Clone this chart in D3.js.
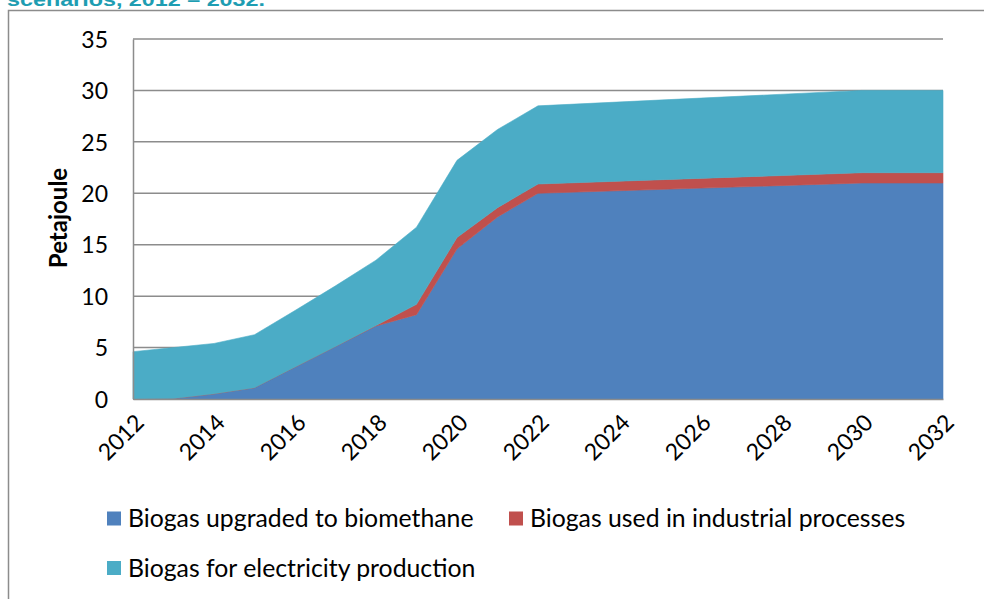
<!DOCTYPE html>
<html>
<head>
<meta charset="utf-8">
<script src="https://cdn.jsdelivr.net/npm/d3@7"></script>
<style>
  html, body { margin: 0; padding: 0; background: #fff; }
  svg { display: block; }
  text { font-family: Lato, "Open Sans", sans-serif; }
</style>
</head>
<body>
<svg id="chart" width="984" height="599"></svg>
<script>
// ---- data ----
const years = [2012, 2013, 2014, 2015, 2016, 2017, 2018, 2019, 2020, 2021, 2022, 2030, 2032];
const biomethane = [0, 0.05, 0.5, 1.1, 3.1, 5.1, 7.1, 8.2, 14.6, 17.7, 20.0, 21.0, 21.0];
const industrial = [0, 0, 0, 0, 0, 0, 0.05, 1.0, 1.1, 0.9, 0.9, 1.0, 1.0];
const electricity = [4.6, 4.95, 4.9, 5.15, 5.5, 5.9, 6.35, 7.5, 7.5, 7.6, 7.6, 8.0, 8.0];
const seriesNames = ["Biogas upgraded to biomethane", "Biogas used in industrial processes", "Biogas for electricity production"];
const seriesColors = ["#4F81BD", "#C0504D", "#4BACC6"];
const yTicks = [0, 5, 10, 15, 20, 25, 30, 35];
const xTicks = [2012, 2014, 2016, 2018, 2020, 2022, 2024, 2026, 2028, 2030, 2032];
const titleText = "scenarios, 2012 – 2032.";
const yLabel = "Petajoule";

const svg = d3.select("#chart");

// cut-off title at top (the reference shows only its lower part)
svg.append("text")
  .attr("x", 7).attr("y", 6)
  .attr("textLength", 258).attr("lengthAdjust", "spacingAndGlyphs")
  .style("font-family", "'Liberation Sans', Arial, sans-serif")
  .style("font-weight", "bold").style("font-size", "18px")
  .attr("fill", "#1E9DB2")
  .text(titleText);

// outer chart frame
svg.append("path")
  .attr("d", "M8.5,600 L8.5,10.5 L985,10.5")
  .attr("fill", "none").attr("stroke", "#8C8C8C").attr("stroke-width", 1.5);

const x = d3.scaleLinear().domain([2012, 2032]).range([133, 943]);
const y = d3.scaleLinear().domain([0, 35]).range([399, 39]);

// gridlines
svg.append("g").selectAll("line").data(yTicks.filter(d => d > 0)).join("line")
  .attr("x1", x(2012)).attr("x2", x(2032))
  .attr("y1", d => y(d)).attr("y2", d => y(d))
  .attr("stroke", "#8C8C8C").attr("stroke-width", 1.5);

// stacked areas
const table = years.map((yr, i) => ({ year: yr, a: biomethane[i], b: industrial[i], c: electricity[i] }));
const stack = d3.stack().keys(["a", "b", "c"]);
const stacked = stack(table);
const area = d3.area()
  .x(d => x(d.data.year))
  .y0(d => y(d[0]))
  .y1(d => y(d[1]));

svg.append("g").selectAll("path").data(stacked).join("path")
  .attr("d", area)
  .attr("fill", (d, i) => seriesColors[i])
  .attr("stroke", (d, i) => seriesColors[i])
  .attr("stroke-width", 0.6);

// axes
const yAxis = d3.axisLeft(y).tickValues(yTicks).tickSize(0).tickPadding(25);
const yg = svg.append("g").attr("transform", `translate(${x(2012)},0)`).call(yAxis);
yg.select(".domain").attr("stroke", "#8C8C8C").attr("stroke-width", 1.5);
yg.selectAll("text").style("font-size", "23px").attr("fill", "#000").attr("dy", "0.36em");

const xAxis = d3.axisBottom(x).tickValues(xTicks).tickFormat(d3.format("d")).tickSize(0);
const xg = svg.append("g").attr("transform", `translate(0,${y(0)})`).call(xAxis);
xg.select(".domain").attr("stroke", "#8C8C8C").attr("stroke-width", 1.5);
xg.selectAll("text")
  .style("font-size", "23px").attr("fill", "#000")
  .attr("text-anchor", "end")
  .attr("dy", null).attr("y", null)
  .attr("transform", "translate(12,25) rotate(-45)");

// y label
svg.append("text")
  .attr("transform", "translate(67,218) rotate(-90)")
  .attr("text-anchor", "middle")
  .style("font-weight", "bold").style("font-size", "24px")
  .text(yLabel);

// legend
const legendPos = [[107, 518.5], [509, 518.5], [107, 568]];
const lg = svg.append("g").selectAll("g").data(seriesNames).join("g")
  .attr("transform", (d, i) => `translate(${legendPos[i][0]},${legendPos[i][1]})`);
lg.append("rect").attr("x", 0).attr("y", -7).attr("width", 14).attr("height", 14)
  .attr("fill", (d, i) => seriesColors[i]);
lg.append("text").attr("x", 21).attr("y", 0).attr("dy", "0.36em")
  .style("font-size", "24.8px").attr("fill", "#000")
  .text(d => d);
</script>
</body>
</html>
